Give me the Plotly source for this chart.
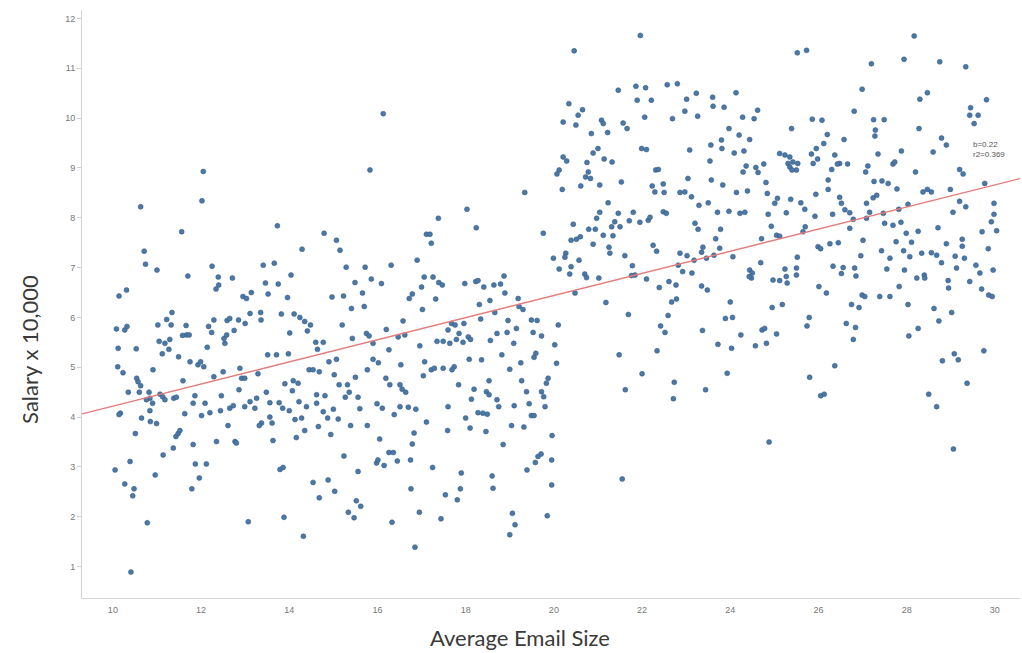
import plotly.graph_objects as go

# Points with Average Email Size below ~20 (lower cluster): (email size, salary x 10,000)
points_low = [
    (12.05,8.93),(12.02,8.34),(10.63,8.22),(11.56,7.72),(13.73,7.84),(10.71,7.33),(10.74,7.07),(11.0,6.95),
    (11.7,6.83),(12.25,7.03),(14.29,7.37),(13.41,7.05),(13.66,7.09),(10.14,6.43),(10.31,6.55),(12.39,6.81),
    (12.4,6.65),(12.34,6.57),(12.71,6.79),(13.46,6.69),(13.52,6.47),(13.75,6.67),(13.96,6.4),(14.04,6.85),
    (12.95,6.42),(13.03,6.38),(13.14,6.5),(10.08,5.77),(10.27,5.75),(10.32,5.82),(10.12,5.38),(10.53,5.37),
    (10.11,5.01),(11.02,5.85),(11.22,5.96),(11.34,6.1),(11.32,5.85),(11.05,5.52),(11.18,5.48),(11.29,5.56),
    (11.27,5.36),(11.12,5.27),(11.49,5.21),(11.58,5.64),(11.67,5.65),(11.73,5.65),(11.66,5.84),(11.75,5.11),
    (11.93,5.05),(11.99,5.11),(12.06,5.01),(12.14,5.4),(12.17,5.82),(12.24,5.7),(12.29,5.95),(12.54,5.48),
    (12.52,5.58),(12.58,5.65),(12.75,5.74),(12.59,5.94),(12.65,5.98),(12.85,5.95),(13.0,5.88),(13.11,6.08),
    (13.35,6.1),(13.36,5.95),(13.82,6.07),(14.01,5.69),(14.11,6.07),(14.24,6.0),(14.35,5.92),(14.48,5.85),
    (14.41,5.73),(14.6,5.5),(14.64,5.36),(13.51,5.25),(13.71,5.25),(13.98,5.27),
    (10.23,4.89),(10.91,4.95),(10.54,4.78),(10.57,4.71),(10.63,4.63),(10.35,4.5),(10.6,4.5),(10.82,4.5),
    (10.84,4.38),(10.76,4.35),(11.07,4.46),(11.13,4.41),(11.18,4.35),(10.9,4.28),(10.84,4.13),(10.17,4.08),
    (10.14,4.05),(10.65,3.98),(10.85,3.91),(10.99,3.87),(10.51,3.67),(10.39,3.11),(10.05,2.94),(10.27,2.66),
    (10.48,2.56),(10.45,2.42),(10.78,1.88),(10.41,0.89),(10.96,2.84),(11.14,3.24),(11.37,3.38),(11.43,3.61),
    (11.48,3.67),(11.52,3.73),(11.59,4.73),(11.38,4.38),(11.44,4.4),(11.63,4.07),(11.82,4.28),(11.86,4.43),
    (12.01,4.03),(12.09,4.28),(12.2,4.09),(12.29,4.81),(12.5,4.91),(12.46,4.43),(12.44,4.13),(12.61,3.83),
    (12.35,3.51),(11.82,3.45),(11.87,3.06),(12.12,3.06),(11.96,2.78),(11.79,2.56),(12.65,4.18),(12.73,4.23),
    (12.77,3.51),(12.8,3.48),(12.88,4.98),(12.92,4.78),(12.99,4.78),(12.86,4.55),(12.99,4.21),(13.11,4.31),
    (13.22,4.18),(13.26,4.38),(13.29,4.87),(13.37,3.88),(13.32,3.83),(13.48,4.5),(13.56,4.29),(13.56,4.0),
    (13.61,3.88),(13.63,3.53),(13.07,1.9),(13.79,2.95),(13.86,2.99),(13.88,1.99),(13.77,4.29),(13.85,4.18),
    (13.9,4.67),(14.09,4.73),(14.2,4.68),(14.07,4.53),(14.0,4.13),(14.13,3.95),(14.28,3.98),(14.16,3.59),
    (14.35,3.73),(14.22,4.31),(14.39,4.21),(14.62,4.28),(14.62,4.45),(14.45,4.95),(14.54,4.95),(14.68,4.91),
    (14.66,3.81),(14.54,2.69),(14.68,2.38),(14.32,1.61),
    (16.13,10.09),(15.83,8.96),(19.34,8.51),(18.03,8.17),(17.38,7.99),(18.24,7.8),(19.76,7.69),(19.99,7.19),
    (14.79,7.69),(15.07,7.55),(15.15,7.35),(17.11,7.67),(17.19,7.67),(17.22,7.49),(15.29,7.01),(15.72,7.01),
    (16.31,7.05),(16.9,7.15),(15.49,6.7),(15.86,6.77),(16.09,6.68),(15.66,6.49),(14.97,6.41),(15.23,6.43),
    (17.06,6.81),(17.26,6.81),(17.0,6.61),(17.39,6.7),(17.47,6.65),(16.79,6.47),(16.72,6.38),(17.32,6.37),
    (17.98,6.68),(18.23,6.72),(18.28,6.74),(18.41,6.61),(18.64,6.65),(18.79,6.67),(18.87,6.83),(18.89,6.49),
    (18.55,6.34),(19.19,6.38),
    (15.41,6.18),(15.7,6.22),(17.02,6.16),(18.31,6.26),(19.21,6.22),(19.3,6.16),(15.2,5.85),(16.58,5.93),
    (16.2,5.76),(15.43,5.58),(15.75,5.68),(15.81,5.63),(15.9,5.48),(16.47,5.61),(16.62,5.65),(14.77,5.5),
    (17.68,5.88),(17.76,5.85),(17.6,5.75),(17.96,5.88),(18.34,5.97),(18.66,6.1),(18.96,5.94),(19.15,5.78),
    (19.49,5.95),(19.62,5.94),(18.71,5.68),(18.94,5.7),(17.85,5.68),(17.79,5.56),(17.94,5.5),(18.06,5.61),
    (18.11,5.56),(17.35,5.52),(17.49,5.52),(17.64,5.48),(19.53,5.7),(19.72,5.63),(18.56,5.54),(19.09,5.48),
    (16.96,5.43),(16.26,5.35),(14.9,5.11),(15.07,5.16),(15.9,5.16),(16.02,5.09),(20.02,5.45),(15.77,4.95),
    (15.5,4.8),(15.02,4.85),(16.53,5.05),(17.07,5.11),(17.22,4.95),(17.29,4.98),(17.49,4.98),(17.74,5.01),
    (17.69,4.95),(17.04,4.83),(18.08,5.16),(18.36,5.15),(18.82,5.25),(19.0,4.96),(19.25,5.09),(19.59,5.28),
    (19.55,5.2),(16.19,4.78),(16.28,4.65),(16.51,4.65),(16.56,4.56),(16.64,4.5),(15.13,4.65),(15.32,4.65),
    (15.36,4.5),(15.27,4.4),(14.81,4.43),(15.56,4.4),(14.77,4.11),(15.0,4.16),(14.87,3.98),(15.11,3.96),
    (14.94,3.65),(15.6,4.17),(15.39,3.83),(15.77,3.83),(15.99,4.27),(16.11,4.18),(16.38,4.05),(16.51,4.21),
    (16.7,4.2),(16.87,4.16),(17.11,3.9),(17.59,3.73),(17.6,4.21),(17.84,4.65),(18.19,4.56),(18.13,4.36),
    (18.47,4.51),(18.53,4.45),(18.53,4.73),(18.28,4.09),(18.39,4.08),(18.49,4.06),(18.71,4.35),(18.75,4.21),
    (18.0,3.98),(18.1,3.78),(18.46,3.71),(19.1,4.23),(19.27,4.73),(19.38,4.51),(19.44,4.27),(19.49,4.03),
    (19.55,4.03),(19.72,4.51),(19.77,4.41),(19.87,4.78),(19.83,4.68),(19.8,4.21),(19.04,3.83),(19.32,3.8),
    (18.85,3.45),(19.96,3.63),(16.05,3.56),(16.79,3.46),(16.83,3.68),(15.24,3.22),(16.26,3.29),(16.36,3.29),
    (15.98,3.08),(16.01,3.14),(16.15,3.03),(16.45,3.12),(16.75,3.14),(17.25,2.99),(15.56,2.91),(17.9,2.88),
    (18.6,2.82),(18.62,2.57),(19.39,2.94),(19.58,3.09),(19.64,3.21),(19.71,3.26),(19.95,3.14),(19.95,2.64),
    (19.85,2.02),(14.88,2.74),(15.03,2.51),(16.76,2.56),(17.54,2.44),(17.88,2.56),(17.81,2.34),(15.52,2.32),
    (15.62,2.21),(15.34,2.09),(15.47,1.98),(16.33,1.89),(16.95,2.09),(17.44,1.96),(16.85,1.39),(19.06,2.07),
    (19.12,1.84),(19.0,1.64),
]

# Points with Average Email Size above ~20 (upper cluster)
points_high = [
    (21.96,11.66),(20.46,11.35),(21.46,10.56),(21.86,10.64),(22.08,10.61),(22.57,10.67),(22.8,10.69),(21.89,10.36),
    (22.21,10.36),(23.23,10.5),(23.6,10.42),(24.13,10.51),(23.01,10.38),(20.34,10.29),(20.65,10.17),(20.55,10.06),
    (20.21,9.92),(20.5,9.86),(21.08,9.96),(21.12,9.89),(22.06,10.02),(22.69,9.99),(22.97,10.14),(23.26,10.04),
    (23.61,10.24),(23.86,10.22),(24.28,10.02),(24.54,9.99),(24.62,10.16),(21.57,9.9),(21.66,9.79),(20.85,9.69),
    (21.22,9.71),(23.97,9.79),(24.2,9.66),(24.44,9.57),(23.8,9.56),(23.56,9.46),(21.0,9.39),(20.89,9.3),
    (21.99,9.39),(22.1,9.37),(23.08,9.36),(23.81,9.39),(24.09,9.3),(24.31,9.34),(25.12,9.29),(25.24,9.26),
    (25.31,9.09),(20.21,9.22),(20.29,9.14),(20.75,9.11),(21.14,9.18),(21.32,9.12),(23.54,9.14),(24.36,9.04),
    (24.29,8.92),(24.58,9.01),(24.63,8.91),(24.76,9.08),(20.12,8.96),(20.07,8.88),(20.78,8.92),(20.72,8.82),
    (20.83,8.79),(22.31,8.96),(22.37,8.97),(23.04,8.79),(23.57,8.76),(24.81,8.71),(20.19,8.57),(20.61,8.64),
    (21.04,8.66),(21.53,8.72),(22.23,8.64),(22.29,8.52),(22.48,8.68),(22.5,8.51),(22.86,8.51),(22.97,8.52),
    (23.12,8.42),(23.83,8.66),(24.14,8.51),(24.39,8.54),(24.84,8.49),(25.07,8.39),(25.01,8.29),(21.23,8.3),
    (23.29,8.25),(23.5,8.3),(21.04,8.11),(20.97,7.99),(21.46,8.09),(21.8,8.11),(22.48,8.12),(22.55,8.09),
    (23.71,8.11),(23.97,8.13),(24.22,8.09),(24.33,8.11),(24.86,8.07),(25.27,8.1),(21.38,7.92),(21.5,7.82),
    (21.31,7.82),(21.71,7.94),(21.95,7.91),(22.14,7.95),(22.18,8.01),(20.44,7.87),(20.79,7.77),(20.94,7.77),
    (21.12,7.65),(21.34,7.64),(23.2,7.89),(23.27,7.77),(23.78,7.77),(24.93,7.83),(20.39,7.55),(20.51,7.57),
    (20.6,7.62),(20.89,7.47),(23.67,7.58),(24.71,7.58),(25.05,7.65),(25.12,7.63),(21.25,7.41),(21.27,7.29),
    (21.61,7.24),(22.25,7.45),(22.33,7.33),(22.86,7.29),(23.02,7.24),(23.38,7.41),(23.35,7.31),(23.63,7.25),
    (23.76,7.39),(20.27,7.29),(20.25,7.21),(20.57,7.15),(20.39,7.02),(20.12,6.97),(20.36,6.87),(20.7,6.87),
    (20.74,6.8),(21.02,6.79),(23.18,7.15),(23.46,7.19),(24.06,7.22),(24.69,7.1),(22.82,7.05),(22.92,6.92),
    (23.13,6.89),(21.78,7.04),(21.76,6.84),(21.84,6.85),(22.1,6.77),(22.39,6.6),(22.61,6.72),(22.77,6.65),
    (23.35,6.63),(23.48,6.55),(24.44,6.95),(24.5,6.89),(24.48,6.79),(24.43,6.82),(24.97,6.75),(25.12,6.74),
    (25.24,6.97),(25.27,6.82),(25.29,6.69),(20.48,6.49),(21.18,6.3),(22.67,6.31),(22.78,6.37),(24.0,6.31),
    (21.69,6.06),(22.59,6.04),(22.42,5.83),(22.52,5.7),(22.34,5.33),(20.1,5.85),(20.06,5.08),(21.48,5.25),
    (22.0,4.87),(21.62,4.55),(22.73,4.7),(22.71,4.37),(23.37,5.74),(23.72,5.46),(23.89,5.98),(24.05,6.0),
    (24.03,5.38),(24.24,5.65),(23.93,4.88),(23.44,4.55),(24.57,5.43),(24.82,5.48),(24.72,5.75),(24.78,5.78),
    (24.95,6.2),(25.18,6.26),(25.05,5.67),(24.88,3.5),(21.55,2.76),
    (28.17,11.65),(25.52,11.31),(25.73,11.36),(27.2,11.09),(27.94,11.18),(28.75,11.13),(29.34,11.03),(26.99,10.58),
    (28.3,10.38),(28.47,10.51),(29.81,10.37),(26.81,10.14),(29.45,10.21),(29.43,10.06),(29.62,10.06),(29.53,9.89),
    (25.86,9.98),(26.08,9.96),(27.25,9.97),(27.49,9.97),(25.39,9.79),(26.2,9.67),(27.29,9.76),(27.28,9.64),
    (28.28,9.79),(26.58,9.57),(28.79,9.6),(28.9,9.46),(26.12,9.49),(25.95,9.39),(25.84,9.28),(27.88,9.34),
    (28.6,9.32),(25.35,9.22),(25.42,9.12),(25.53,9.09),(25.35,9.02),(25.5,8.96),(25.4,8.96),(25.98,9.18),
    (25.88,9.09),(26.37,9.26),(26.48,9.09),(26.43,9.08),(26.66,9.08),(27.35,9.28),(27.69,9.08),(27.73,9.12),
    (27.12,9.04),(27.07,8.92),(26.3,8.97),(28.2,8.92),(29.2,8.97),(29.28,8.88),(26.22,8.76),(26.22,8.57),
    (27.26,8.73),(27.44,8.74),(27.58,8.69),(27.78,8.58),(27.24,8.4),(27.32,8.45),(28.37,8.52),(28.47,8.57),
    (28.56,8.52),(28.99,8.57),(29.77,8.69),(25.94,8.47),(25.37,8.37),(25.6,8.3),(25.69,8.17),(26.48,8.41),
    (26.52,8.29),(27.09,8.29),(28.03,8.27),(29.2,8.33),(29.34,8.22),(29.98,8.29),(25.92,8.03),(26.32,8.07),
    (26.6,8.16),(26.71,8.1),(26.79,7.97),(27.16,8.11),(27.09,7.99),(27.47,8.09),(27.82,8.17),(27.5,7.89),
    (27.69,7.85),(27.87,7.91),(29.05,8.11),(29.98,8.07),(29.92,7.92),(30.04,7.74),(26.71,7.79),(25.65,7.72),
    (25.7,7.82),(27.01,7.55),(25.99,7.42),(26.05,7.38),(26.26,7.48),(26.45,7.5),(27.76,7.52),(27.99,7.69),
    (28.26,7.73),(28.11,7.51),(27.93,7.34),(28.71,7.8),(28.9,7.48),(29.26,7.57),(29.26,7.43),(29.71,7.72),
    (29.85,7.38),(25.52,7.21),(26.96,7.24),(27.43,7.34),(27.62,7.19),(28.07,7.22),(28.34,7.29),(28.56,7.3),
    (28.68,7.25),(28.79,7.1),(29.1,7.23),(29.31,7.19),(26.33,7.03),(26.56,7.0),(26.52,6.88),(26.82,6.99),
    (26.85,6.83),(27.55,6.97),(27.95,6.95),(28.23,6.79),(28.4,6.85),(28.41,6.79),(29.13,6.99),(29.57,7.05),
    (29.66,6.89),(29.96,6.95),(29.43,6.72),(27.83,6.62),(28.94,6.74),(28.95,6.59),(25.5,6.99),(25.5,6.85),
    (26.01,6.62),(26.18,6.49),(26.99,6.45),(27.05,6.42),(27.39,6.42),(27.62,6.42),(29.7,6.57),(29.86,6.45),
    (29.94,6.42),
    (26.75,6.26),(26.92,6.2),(28.03,6.26),(28.62,6.18),(29.02,6.1),(25.79,6.0),(25.74,5.83),(26.63,5.88),
    (26.84,5.8),(26.79,5.56),(28.26,5.78),(28.05,5.63),(28.73,5.93),(29.08,5.27),(29.17,5.15),(28.81,5.13),
    (29.75,5.33),(26.37,5.03),(25.8,4.8),(26.05,4.43),(26.13,4.46),(29.37,4.68),(28.5,4.46),(28.68,4.21),
    (29.06,3.36),
]

x_ticks = [10, 12, 14, 16, 18, 20, 22, 24, 26, 28, 30]
y_ticks = [1, 2, 3, 4, 5, 6, 7, 8, 9, 10, 11, 12]
x_range = [9.3, 30.57]
y_range = [0.37, 12.17]
fit_intercept = 2.0
fit_slope = 0.222
fit_label = "b=0.22<br>r2=0.369"

all_points = points_low + points_high
email_size = [p[0] for p in all_points]
salary = [p[1] for p in all_points]

fig = go.Figure()
fig.add_trace(go.Scatter(
    x=email_size, y=salary, mode="markers",
    marker=dict(size=5, color="#4a79a8", line=dict(width=0.5, color="#34577c")),
    showlegend=False, hoverinfo="x+y",
))
fit_x = list(x_range)
fit_y = [fit_intercept + fit_slope * v for v in fit_x]
fig.add_trace(go.Scatter(
    x=fit_x, y=fit_y, mode="lines",
    line=dict(color="#e57b79", width=1.4),
    showlegend=False, hoverinfo="skip",
))

fig.add_annotation(x=29.45, y=9.6, xref="x", yref="y", text=fit_label, showarrow=False,
                   xanchor="left", yanchor="top", align="left",
                   font=dict(family="Liberation Sans, Arial, sans-serif", size=8, color="#555"))
fig.add_annotation(x=0.467, y=-0.068, xref="paper", yref="paper", text="Average Email Size",
                   showarrow=False, xanchor="center", yanchor="middle",
                   font=dict(family="Lato, sans-serif", size=22, color="#3a3a3a"))
fig.add_annotation(x=-0.0554, y=0.422, xref="paper", yref="paper", text="Salary x 10,000",
                   showarrow=False, xanchor="center", yanchor="middle", textangle=-90,
                   font=dict(family="Lato, sans-serif", size=22, color="#3a3a3a"))

fig.update_layout(
    width=1022, height=653,
    margin=dict(l=82, r=2, t=10, b=55),
    paper_bgcolor="white", plot_bgcolor="white",
    font=dict(family="Liberation Sans, Arial, sans-serif", size=9, color="#777"),
    xaxis=dict(range=x_range, tickvals=x_ticks, ticktext=[str(v) for v in x_ticks],
               showline=True, linecolor="#d4d4d4", linewidth=1, showgrid=False, zeroline=False,
               ticks="outside", ticklen=3, tickcolor="white", tickfont=dict(size=9, color="#777")),
    yaxis=dict(range=y_range, tickvals=y_ticks, ticktext=[str(v) for v in y_ticks],
               showline=True, linecolor="#d4d4d4", linewidth=1, showgrid=False, zeroline=False,
               ticks="outside", ticklen=4, tickcolor="#cfcfcf", tickfont=dict(size=9, color="#777")),
)

fig.write_html("out.html", config={"displayModeBar": False},
               post_script="document.body.style.margin='0';document.body.style.overflow='hidden';")
